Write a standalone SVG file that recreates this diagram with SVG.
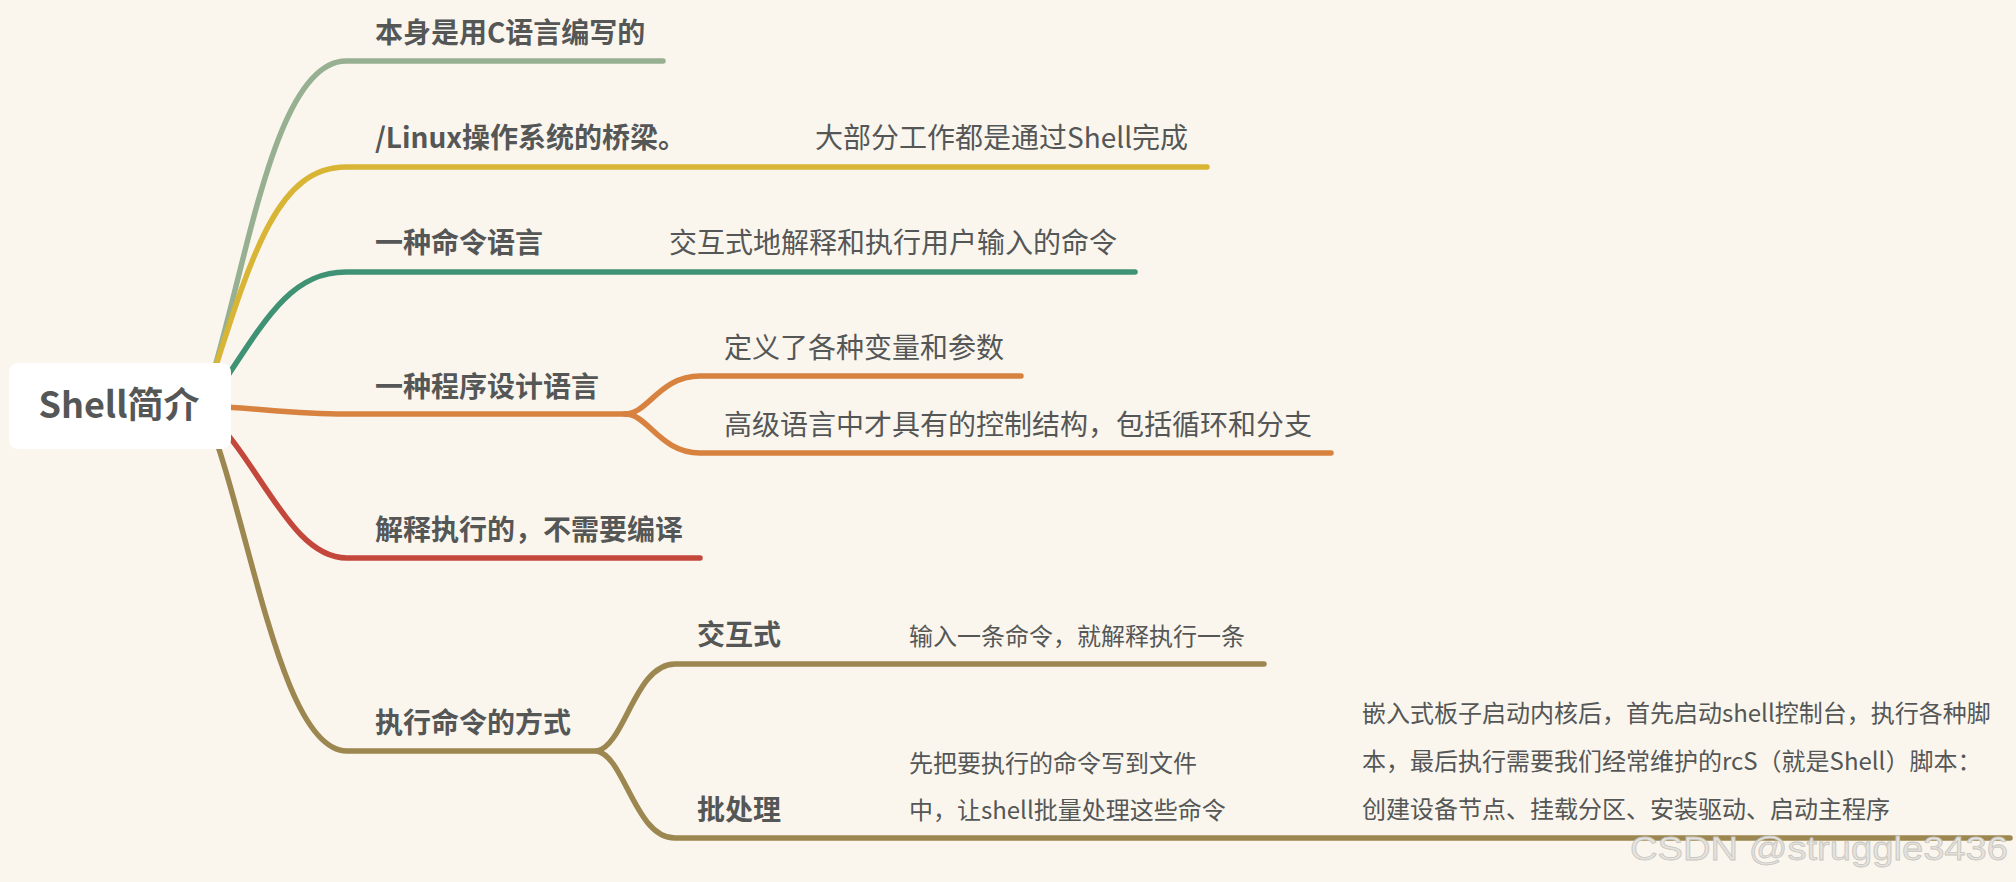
<svg xmlns="http://www.w3.org/2000/svg" width="2016" height="882" viewBox="0 0 2016 882">
<style>
.t{font-family:"Noto Sans CJK SC","Microsoft YaHei",sans-serif;fill:#555757;}
.b{font-size:28px;font-weight:700;}
.n{font-size:28px;font-weight:400;}
.s{font-size:24px;font-weight:400;}
.c{fill:none;stroke-width:5.5;stroke-linecap:round;}
.g1{stroke:#97B091;}
.g2{stroke:#D9B535;}
.g3{stroke:#3F9274;}
.g4{stroke:#D8823F;}
.g5{stroke:#C4473C;}
.g6{stroke:#9D8750;}
</style>
<rect width="2016" height="882" fill="#FAF6EE"/>
<g id="connectors">
  <path class="c g1" d="M205 400 C245 280 272 61 346 61 L663 61"/>
  <path class="c g2" d="M205 400 C250 260 275 167 346 167 L703 167 L1207 167"/>
  <path class="c g3" d="M215 395 C265 320 290 272 346 272 L558 272 L1135 272"/>
  <path class="c g4" d="M205 406 C260 408 290 414 346 414 L628 414"/>
  <path class="c g4" d="M625 414 C648 414 660 376 700 376 L1021 376"/>
  <path class="c g4" d="M625 414 C648 414 660 453 700 453 L1331 453"/>
  <path class="c g5" d="M205 410 C260 460 290 558 347 558 L700 558"/>
  <path class="c g6" d="M205 410 C250 520 280 751 347 751 L600 751"/>
  <path class="c g6" d="M597 751 C625 745 635 664 675 664 L1264 664"/>
  <path class="c g6" d="M597 751 C625 757 635 838 675 838 L1250 838 L2010 838"/>
</g>
<g id="root">
  <rect x="9" y="363" width="222" height="86" rx="9" fill="#FFFFFF"/>
  <text class="t" x="119" y="418" text-anchor="middle" font-size="36" font-weight="700">Shell简介</text>
</g>
<g id="n1"><text class="t b" x="375" y="43">本身是用C语言编写的</text></g>
<g id="n2"><text class="t b" x="375" y="148">/Linux操作系统的桥梁。</text></g>
<g id="n2a"><text class="t n" x="815" y="148">大部分工作都是通过Shell完成</text></g>
<g id="n3"><text class="t b" x="375" y="253">一种命令语言</text></g>
<g id="n3a"><text class="t n" x="669" y="253">交互式地解释和执行用户输入的命令</text></g>
<g id="n4"><text class="t b" x="375" y="397">一种程序设计语言</text></g>
<g id="n4a"><text class="t n" x="724" y="358">定义了各种变量和参数</text></g>
<g id="n4b"><text class="t n" x="724" y="435">高级语言中才具有的控制结构，包括循环和分支</text></g>
<g id="n5"><text class="t b" x="375" y="540">解释执行的，不需要编译</text></g>
<g id="n6"><text class="t b" x="375" y="733">执行命令的方式</text></g>
<g id="n6a"><text class="t b" x="697" y="645">交互式</text></g>
<g id="n6a1"><text class="t s" x="909" y="645">输入一条命令，就解释执行一条</text></g>
<g id="n6b"><text class="t b" x="697" y="820">批处理</text></g>
<g id="n6b1">
  <text class="t s" x="909" y="772">先把要执行的命令写到文件</text>
  <text class="t s" x="909" y="819">中，让shell批量处理这些命令</text>
</g>
<g id="n6b2">
  <text class="t s" x="1362" y="722">嵌入式板子启动内核后，首先启动shell控制台，执行各种脚</text>
  <text class="t s" x="1362" y="770">本，最后执行需要我们经常维护的rcS（就是Shell）脚本：</text>
  <text class="t s" x="1362" y="818">创建设备节点、挂载分区、安装驱动、启动主程序</text>
</g>
<text x="1630" y="860" font-family="Liberation Sans Narrow, Liberation Sans, sans-serif" font-size="34" fill="#E6E3DD" stroke="#C8C6C2" stroke-width="0.8" textLength="378" lengthAdjust="spacingAndGlyphs">CSDN @struggle3436</text>
</svg>
